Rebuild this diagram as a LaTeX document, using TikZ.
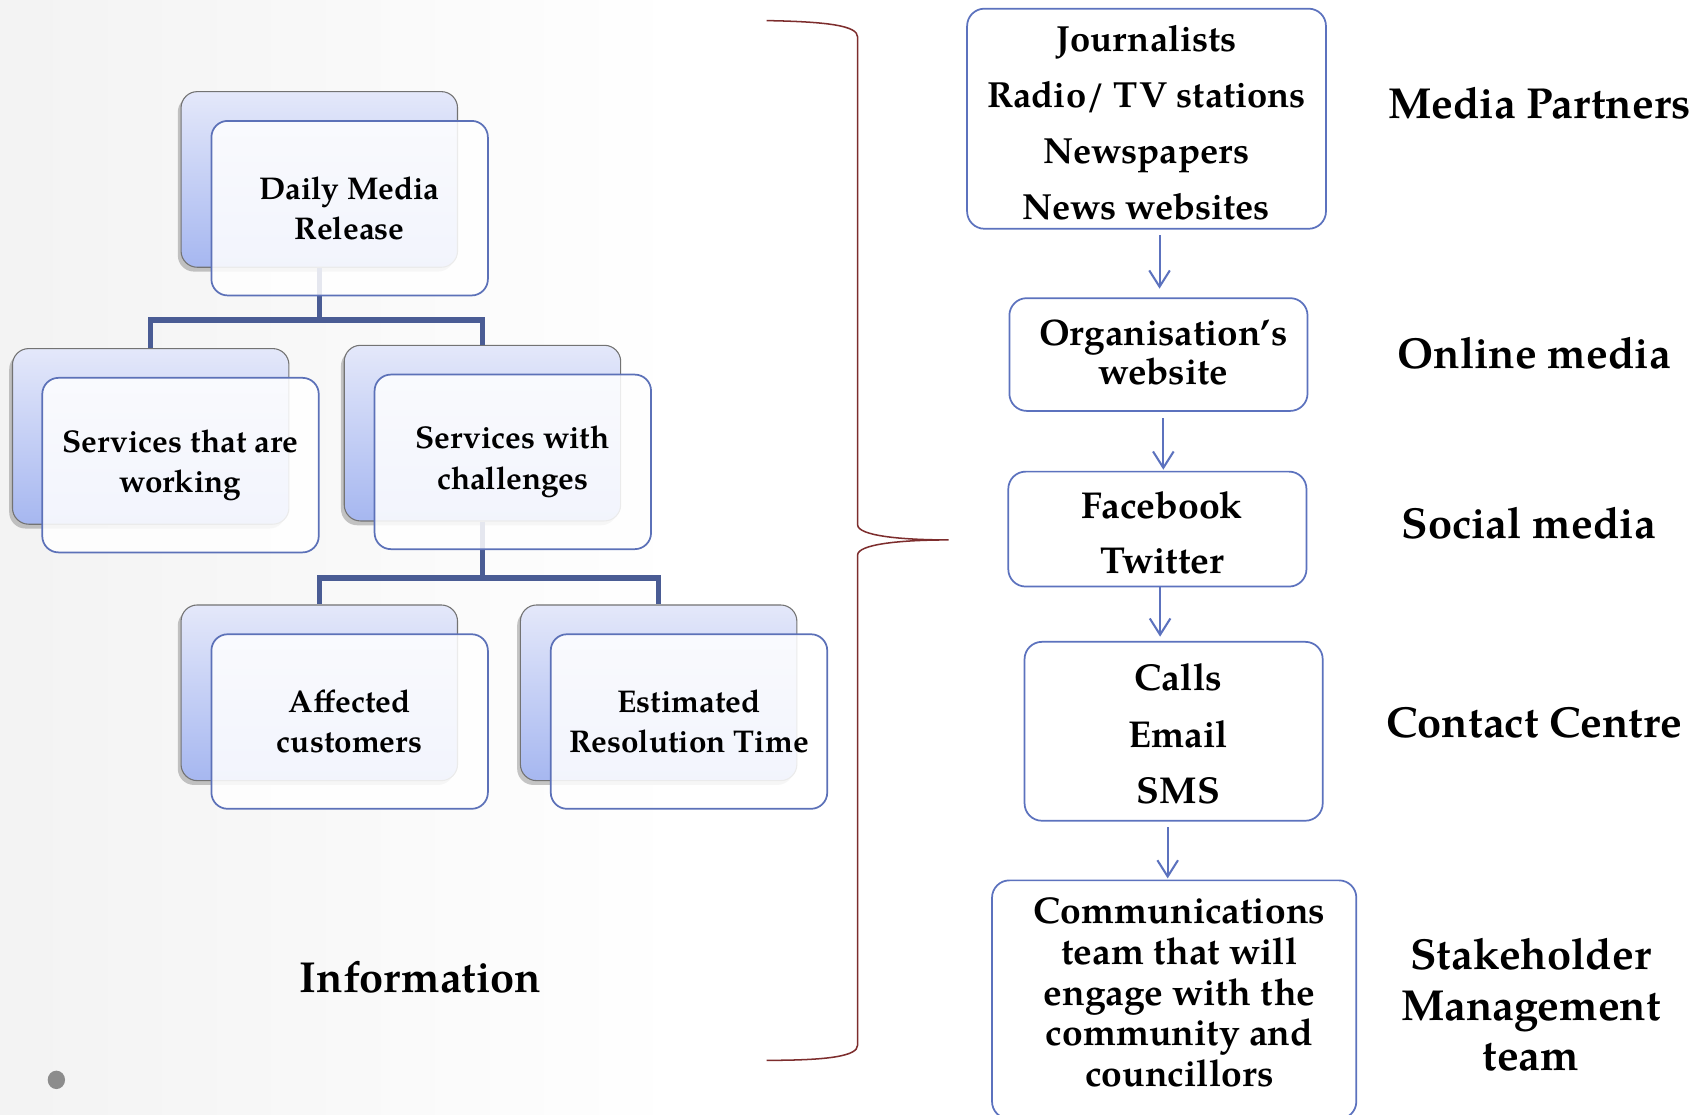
\documentclass[tikz,border=0pt]{standalone}
\usepackage{fontspec}
\setmainfont{TeX Gyre Pagella}
\usetikzlibrary{arrows.meta,shadows}
\definecolor{conn}{RGB}{74,92,148}
\definecolor{fborder}{RGB}{92,113,184}
\definecolor{rborder}{RGB}{92,114,190}
\definecolor{bracec}{RGB}{125,45,45}
\definecolor{backtop}{RGB}{228,232,250}
\definecolor{backbot}{RGB}{166,183,240}
\pgfdeclarehorizontalshading{slidebg}{100bp}{rgb(0bp)=(0.89,0.89,0.89); rgb(45bp)=(1,1,1); rgb(80bp)=(1,1,1); rgb(100bp)=(0.93,0.93,0.93)}
\tikzset{
  backbox/.style={rectangle, rounded corners=15pt, draw=black!55, line width=1pt,
    top color=backtop, bottom color=backbot, minimum width=255pt, minimum height=162pt,
    drop shadow={shadow xshift=-3pt, shadow yshift=-4pt, opacity=0.45}},
  frontbox/.style={rectangle, rounded corners=15pt, draw=fborder, line width=1.6pt,
    fill=white, fill opacity=0.86, text opacity=1, minimum width=255pt, minimum height=161pt,
    align=center, font=\fontsize{29}{37}\selectfont\bfseries},
  treeline/.style={conn, line width=5pt},
  rbox/.style={rectangle, rounded corners=16pt, draw=rborder, line width=1.6pt,
    align=center, font=\fontsize{34.5}{51.5}\selectfont\bfseries},
  arr/.style={rborder, line width=1.9pt, -{Straight Barb[length=15pt,width=19pt,line width=1.9pt]}},
  lbl/.style={align=center, font=\fontsize{40}{46.5}\selectfont\bfseries},
}
\begin{document}
\begin{tikzpicture}[x=1pt,y=-1pt]
\useasboundingbox (0,0) rectangle (1568,1028);
\shade[shading=slidebg] (0,0) rectangle (1568,1028);
% left tree: back boxes
\node[backbox] (dmrB)  at (294.5,165.5) {};
\node[backbox] (satwB) at (139,402.5) {};
\node[backbox] (swcB)  at (445,399.5) {};
\node[backbox] (acB)   at (294.5,639) {};
\node[backbox] (ertB)  at (607.5,639) {};
% connectors
\coordinate (bar1) at (0,295);
\coordinate (bar2) at (0,533);
\draw[treeline] (dmrB.south) -- (dmrB.south |- bar1) -| (satwB.north);
\draw[treeline] (dmrB.south |- bar1) -| (swcB.north);
\draw[treeline] (swcB.south) -- (swcB.south |- bar2) -| (acB.north);
\draw[treeline] (swcB.south |- bar2) -| (ertB.north);
% front boxes
\node[frontbox] (dmr)  at (322.5,192) {Daily Media\\Release};
\node[frontbox] (satw) at (166.5,429) {Services that are\\working};
\node[frontbox] (swc)  at (473,426) {Services with\\challenges};
\node[frontbox] (ac)   at (322.5,665.5) {Affected\\customers};
\node[frontbox] (ert)  at (635.5,665.5) {Estimated\\Resolution Time};
\node[lbl] (info) at (388,901) {Information};
\fill[black!45] (52,996) ellipse (8pt and 8.5pt);
% brace
\draw[bracec, line width=1.4pt] (707,19) .. controls (765,20) and (791,24) .. (791,34) -- (791,484)
  .. controls (791,494) and (830,498) .. (875,498)
  .. controls (830,498) and (791,502) .. (791,512) -- (791,964)
  .. controls (791,974) and (765,978) .. (707,978);
% right column
\node[rbox, minimum width=331pt, minimum height=203pt] (media) at (1057.5,109.5) {};
\node[align=center, font=\fontsize{33.5}{51.5}\selectfont\bfseries] (mediaT) at (1057.5,113)
  {Journalists\\Radio/ TV stations\\Newspapers\\News websites};
\node[rbox, minimum width=275pt, minimum height=104pt] (org) at (1068.5,327) {};
\node[align=center, font=\fontsize{34}{36}\selectfont\bfseries] (orgT) at (1073,325)
  {Organisation’s\\website};
\node[rbox, minimum width=275pt, minimum height=106pt] (social) at (1067.5,488) {};
\node[align=center, font=\fontsize{34.5}{51}\selectfont\bfseries] (socialT) at (1072,491.5)
  {Facebook\\Twitter};
\node[rbox, minimum width=275pt, minimum height=165pt] (contact) at (1082.5,674.5) {};
\node[align=center, font=\fontsize{34.5}{52}\selectfont\bfseries] (contactT) at (1087,677)
  {Calls\\Email\\SMS};
\node[rbox, minimum width=336pt, minimum height=220pt] (comms) at (1083,922) {};
\node[align=center, font=\fontsize{34.3}{37.5}\selectfont\bfseries] (commsT) at (1088,915.5)
  {Communications\\team that will\\engage with the\\community and\\councillors};
\draw[arr, shorten <=5pt, shorten >=8pt] ([xshift=12pt]media.south) -- ([xshift=12pt]media.south |- org.north);
\draw[arr, shorten <=6pt, shorten >=1pt] ([xshift=4.5pt]org.south) -- ([xshift=4.5pt]org.south |- social.north);
\draw[arr, shorten <=0pt, shorten >=4pt] ([xshift=2.5pt]social.south) -- ([xshift=2.5pt]social.south |- contact.north);
\draw[arr, shorten <=5pt, shorten >=1pt] ([xshift=-5.5pt]contact.south) -- ([xshift=-5.5pt]contact.south |- comms.north);
% right labels
\node[lbl] (lmp) at (1420,95) {Media Partners};
\node[lbl] (lom) at (1415,326) {Online media};
\node[lbl] (lsm) at (1410,483) {Social media};
\node[lbl] (lcc) at (1415,667) {Contact Centre};
\node[lbl] (lsh) at (1412,927) {Stakeholder\\Management\\team};
\end{tikzpicture}
\end{document}
